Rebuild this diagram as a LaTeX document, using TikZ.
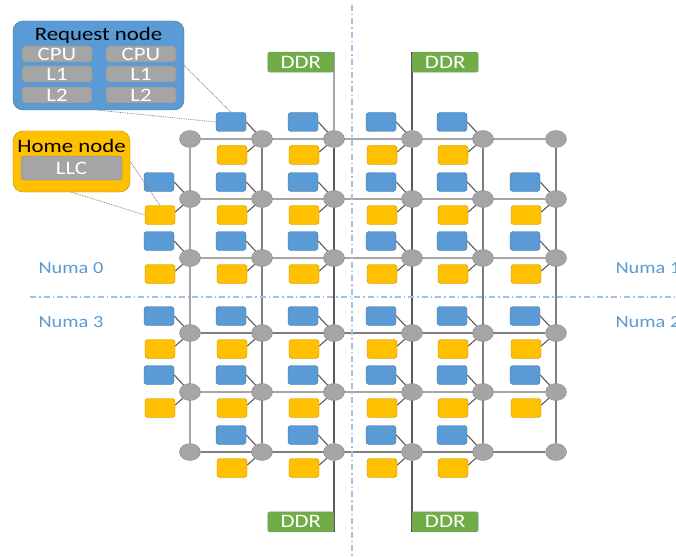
\documentclass[tikz,border=0pt]{standalone}
\usepackage{fontspec}
\setmainfont{Carlito}[FakeStretch=1.2]
\usepackage{xcolor}
\usetikzlibrary{shapes.geometric,calc}

\definecolor{mBlue}{HTML}{5B9BD5}
\definecolor{mBlueLine}{HTML}{41719C}
\definecolor{mGold}{HTML}{FFC000}
\definecolor{mGoldLine}{HTML}{BC8C00}
\definecolor{mGray}{HTML}{A5A5A5}
\definecolor{mGrayLine}{HTML}{8C8C8C}
\definecolor{mGreen}{HTML}{70AD47}
\definecolor{mGreenLine}{HTML}{7F8F75}
\definecolor{mLink}{HTML}{A6A6A6}
\definecolor{mLinkMid}{HTML}{7F7F7F}
\definecolor{mLinkDark}{HTML}{595959}
\definecolor{mNuma}{HTML}{9DC3E6}

\pgfdeclarelayer{bg}
\pgfsetlayers{bg,main}

\tikzset{
  router/.style={ellipse, draw=mGrayLine, fill=mGray, minimum width=21pt, minimum height=17pt, inner sep=0pt},
  reqtile/.style={draw=mBlueLine, fill=mBlue, rounded corners=3pt, minimum width=30pt, minimum height=19pt, inner sep=0pt},
  hometile/.style={draw=mGoldLine, fill=mGold, rounded corners=3pt, minimum width=30pt, minimum height=19pt, inner sep=0pt},
  ddr/.style={draw=mGreenLine, fill=mGreen, text=white, rounded corners=2pt, minimum width=66pt, minimum height=20pt, inner sep=0pt},
  part/.style={draw=mGrayLine, fill=mGray, text=white, rounded corners=3pt, minimum width=70pt, minimum height=16pt, inner sep=0pt},
  link/.style={mLink, line width=1.1pt},
  midlink/.style={mLinkMid, line width=1.1pt},
  darklink/.style={mLinkDark, line width=1.1pt},
  stub/.style={mLinkDark, line width=1.1pt},
  callout/.style={mLinkMid, densely dotted, line width=0.8pt},
  numaline/.style={mNuma, dash pattern=on 6pt off 3pt on 1.5pt off 3pt, line width=1.3pt},
  numa/.style={text=mBlue, anchor=base west, font=\fontsize{17pt}{19pt}\selectfont}
}

\begin{document}
\begin{tikzpicture}[x=1pt, y=-1pt, font=\fontsize{19pt}{21pt}\selectfont]
\useasboundingbox (0,0) rectangle (676,556);

% routers of the 6x6 mesh
\foreach \r/\y in {1/139,2/199,3/258,4/333,5/392,6/452}
  \foreach \c/\x in {1/190,2/262,3/334,4/412,5/483,6/556}
    \node[router] (rt-\r-\c) at (\x,\y) {};

% request and home tiles, none at the four corners
\foreach \r in {1,...,6}
  \foreach \c in {1,...,6} {
    \pgfmathtruncatemacro\corner{((\r==1)||(\r==6))&&((\c==1)||(\c==6))}
    \ifnum\corner=0
      \node[reqtile] (rn-\r-\c) at ($(rt-\r-\c)+(-31,-17)$) {};
      \node[hometile] (hn-\r-\c) at ($(rt-\r-\c)+(-30,16)$) {};
      \begin{pgfonlayer}{bg}
        \draw[stub] (rn-\r-\c.east) -- (rt-\r-\c);
        \draw[stub] ([yshift=3pt]hn-\r-\c.east) -- (rt-\r-\c);
      \end{pgfonlayer}
    \fi
  }

% memory controllers
\node[ddr, anchor=north east] (ddr-a) at (334,52) {DDR};
\node[ddr, anchor=north west] (ddr-b) at (412,52) {DDR};
\node[ddr, anchor=south east] (ddr-c) at (334,532) {DDR};
\node[ddr, anchor=south west] (ddr-d) at (412,532) {DDR};

\begin{pgfonlayer}{bg}
  \foreach \r/\s in {1/link,2/link,3/link,4/midlink,5/link,6/midlink}
    \draw[\s] (rt-\r-1) -- (rt-\r-6);
  \foreach \c/\s in {1/link,2/midlink,3/darklink,4/darklink,5/midlink,6/midlink}
    \draw[\s] (rt-1-\c) -- (rt-6-\c);
  \draw[link] (ddr-a.north east) -- (rt-1-3);
  \draw[darklink] (ddr-b.north west) -- (rt-1-4);
  \draw[darklink] (rt-6-3) -- (ddr-c.south east);
  \draw[darklink] (rt-6-4) -- (ddr-d.south west);
\end{pgfonlayer}

% numa borders
\draw[numaline] (352,5) -- (352,556);
\draw[numaline] (30,297) -- (676,297);
\node[numa] (numa0) at (35,273) {Numa 0};
\node[numa] (numa3) at (35,327) {Numa 3};
\node[numa] (numa1) at (612,273) {Numa 1};
\node[numa] (numa2) at (612,327) {Numa 2};

% request node callout
\node[draw=mBlueLine, fill=mBlue, rounded corners=10pt, minimum width=171pt, minimum height=89pt] (reqnode) at (98.5,65.5) {};
\node[anchor=base] (reqtitle) at (98.5,40.5) {Request node};
\foreach \k/\x in {a/57,b/141} {
  \node[part] (cpu-\k) at (\x,54) {CPU};
  \node[part] (lone-\k) at (\x,74) {L1};
  \node[part] (ltwo-\k) at (\x,95) {L2};
}

% home node callout
\node[draw=mGoldLine, fill=mGold, rounded corners=10pt, minimum width=117pt, minimum height=61pt] (homenode) at (71.5,161.5) {};
\node[anchor=base] (hometitle) at (71.5,153) {Home node};
\node[part, minimum width=101pt, minimum height=24pt] (llc) at (71.5,168) {LLC};

\draw[callout] (reqnode.south) -- (rn-1-2.west);
\draw[callout] (reqnode.east) -- (rn-1-2.north);
\draw[callout] (homenode.east) -- (hn-2-1.north);
\draw[callout] (homenode.south) -- (hn-2-1.west);
\end{tikzpicture}
\end{document}
